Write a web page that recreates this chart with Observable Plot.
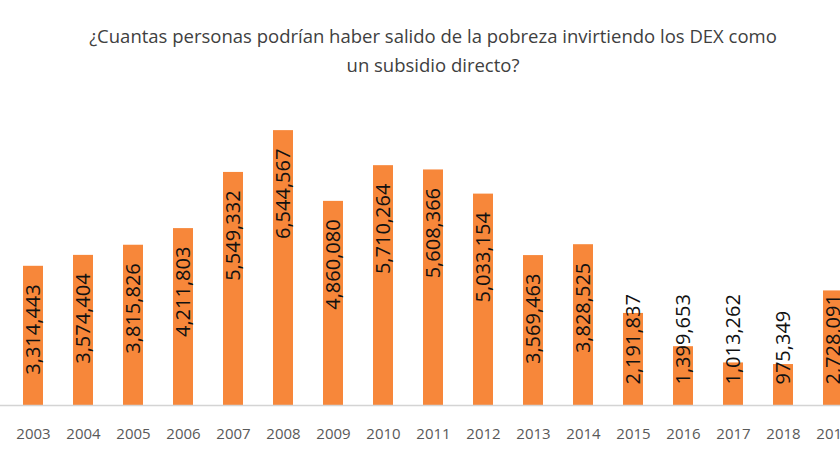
<!DOCTYPE html>
<html lang="es">
<head>
<meta charset="utf-8">
<script src="https://cdn.jsdelivr.net/npm/d3@7"></script>
<script src="https://cdn.jsdelivr.net/npm/@observablehq/plot@0.6"></script>
<style>
  html, body { margin: 0; padding: 0; background: #fff; overflow: hidden; }
  #wrap { width: 866px; }
  #title {
    font-family: "Open Sans", sans-serif;
    font-size: 18.5px;
    line-height: 29px;
    color: #404040;
    text-align: center;
    padding-top: 21px;
  }
</style>
</head>
<body>
<div id="wrap">
  <div id="title">¿Cuantas personas podrían haber salido de la pobreza invirtiendo los DEX como<br>un subsidio directo?</div>
  <div id="chart"></div>
</div>
<script>
// Personas que podrían salir de la pobreza, por año
const years = ["2003","2004","2005","2006","2007","2008","2009","2010","2011","2012","2013","2014","2015","2016","2017","2018","2019"];
const personas = [3314443, 3574404, 3815826, 4211803, 5549332, 6544567, 4860080, 5710264, 5608366, 5033154, 3569463, 3828525, 2191837, 1399653, 1013262, 975349, 2728091];

const data = years.map((year, i) => ({year, value: personas[i]}));

const W = 866, H = 386, mTop = 32, mBottom = 60;
const yMax = 7000000;
const labelFont = '20px "Open Sans", sans-serif';
const fmt = d3.format(",");

// Decide whether a rotated label fits inside its bar below the top gap
const ctx = document.createElement("canvas").getContext("2d");
ctx.font = labelFont;
const pxPerUnit = (H - mTop - mBottom) / yMax;
const fits = d => d.value * pxPerUnit - 18 - ctx.measureText(fmt(d.value)).width >= 21;

const labelStyle = {
  text: d => fmt(d.value),
  rotate: -90,
  fontSize: 20,
  fill: "#111",
  lineAnchor: "middle"
};

const chart = Plot.plot({
  width: W,
  height: H,
  marginTop: mTop,
  marginBottom: mBottom,
  marginLeft: 0,
  marginRight: 0,
  style: {fontFamily: '"Open Sans", sans-serif', background: "#fff"},
  x: {domain: years, paddingInner: 0.6, paddingOuter: 0.33, label: null},
  y: {domain: [0, yMax], axis: null},
  marks: [
    Plot.barY(data, {x: "year", y: "value", fill: "#F7873A"}),
    Plot.ruleY([0], {stroke: "#d4d4d4", strokeWidth: 1.5}),
    Plot.text(data.filter(fits), {...labelStyle, x: "year", y: "value", textAnchor: "end", dy: 18}),
    Plot.text(data.filter(d => !fits(d)), {...labelStyle, x: "year", y: 0, textAnchor: "start", dy: -21}),
    Plot.axisX({tickSize: 0, tickPadding: 23, fontSize: 15, color: "#595959", label: null})
  ]
});

document.getElementById("chart").appendChild(chart);
</script>
</body>
</html>
